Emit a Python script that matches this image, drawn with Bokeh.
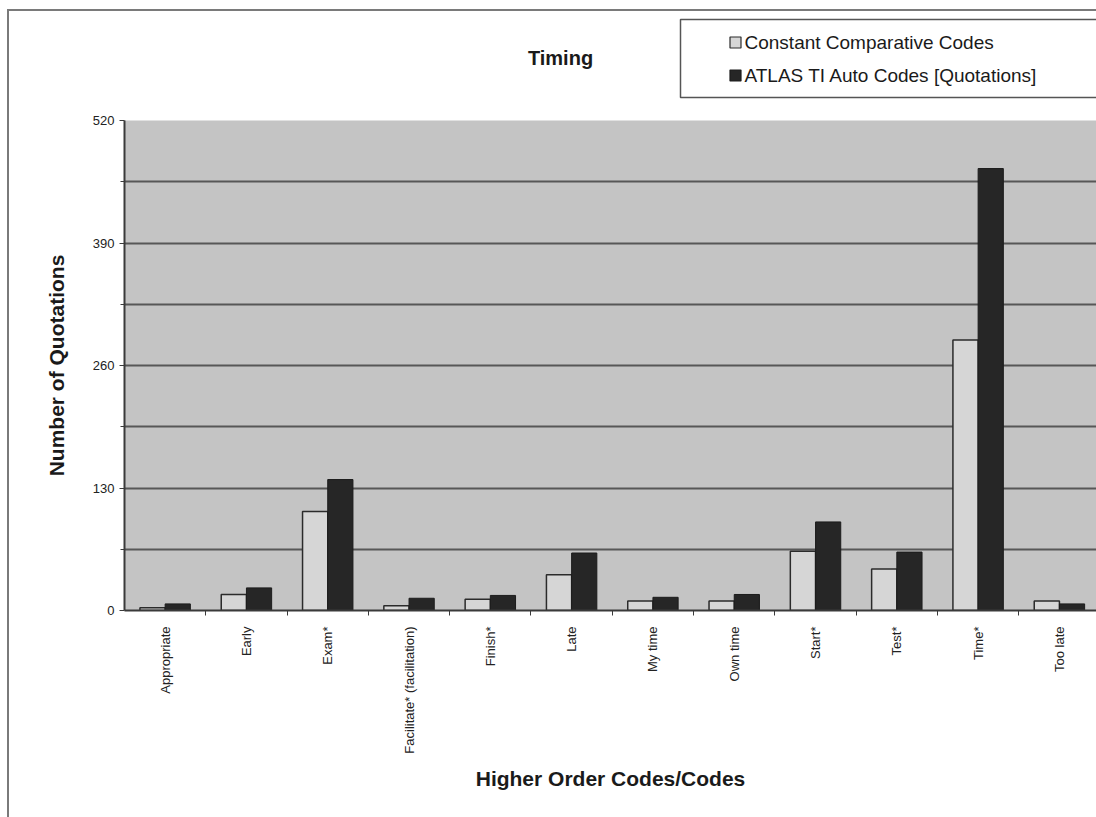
import numpy as np
from bokeh.plotting import figure
from bokeh.layouts import column
from bokeh.models import Range1d, FixedTicker, ColumnDataSource
from bokeh.core.properties import value
from bokeh.embed import file_html
from bokeh.resources import INLINE

# Quotation counts per code
categories = ["Appropriate", "Early", "Exam*", "Facilitate* (facilitation)", "Finish*",
              "Late", "My time", "Own time", "Start*", "Test*", "Time*", "Too late"]
constant_comparative = [3, 17, 105, 5, 12, 38, 10, 10, 63, 44, 287, 10]
atlas_auto = [7, 24, 139, 13, 16, 61, 14, 17, 94, 62, 469, 7]
series_names = ["Constant Comparative Codes", "ATLAS TI Auto Codes [Quotations]"]
chart_title = "Timing"

y_tick_values = [0, 130, 260, 390, 520]
y_minor_values = [65, 195, 325, 455]

FONT = "Liberation Sans"
BAR_W = 0.31
CCC_FILL, CCC_LINE = "#d6d6d6", "#2b2b2b"
ATL_FILL, ATL_LINE = "#262626", "#1c1c1c"
FRAME_GREY = "#7a7a7a"
W = 1096
HEADER_H = 100
PLOT_LEFT = 124

# outer chart border, drawn as CSS lines behind the transparent canvases
edge = f"linear-gradient({FRAME_GREY}, {FRAME_GREY})"
header_css = {"background": f"{edge} 7px 9px / 2px 100% no-repeat, "
                            f"{edge} 7px 9px / 100% 2px no-repeat, white"}
body_css = {"background": f"{edge} 7px 0px / 2px 100% no-repeat, white"}

# ---------------- header strip: title and legend ----------------
# the frame of this strip lines up with the chart frame below (x from PLOT_LEFT to W)
head = figure(width=W, height=HEADER_H, x_range=Range1d(PLOT_LEFT, W),
              y_range=Range1d(HEADER_H, 0),
              x_axis_type=None, y_axis_type=None, output_backend="svg",
              toolbar_location=None, min_border=0)
head.outline_line_color = None
head.grid.visible = False
head.background_fill_alpha = 0
head.border_fill_alpha = 0
head.styles = header_css

head.text(x=[560], y=[57], text=[chart_title], text_align="center", text_baseline="middle",
          text_font=value(FONT), text_font_style="bold", text_font_size="20px",
          text_color="#1a1a1a")

# legend frame (open to the right edge)
head.quad(left=[680], right=[W + 10], top=[19], bottom=[97],
          fill_color="white", line_color="#555555", line_width=1.5)

legend_y = [42, 75]
head.rect(x=[735, 735], y=legend_y, width=11, height=11,
          fill_color=[CCC_FILL, ATL_FILL], line_color=[CCC_LINE, ATL_LINE], line_width=1.2)
head.text(x=[744, 744], y=legend_y, text=series_names, text_baseline="middle",
          text_font=value(FONT), text_font_size="19px", text_color="#1a1a1a")

# ---------------- main bar chart ----------------
n = len(categories)
centers = np.arange(n) + 0.5
source = ColumnDataSource(dict(
    x_ccc=centers - BAR_W / 2,
    x_atl=centers + BAR_W / 2,
    ccc=constant_comparative,
    atl=atlas_auto,
))

p = figure(width=W, height=817 - HEADER_H,
           x_range=Range1d(0, 11.956), y_range=Range1d(0, 520),
           output_backend="svg", toolbar_location=None,
           min_border_left=PLOT_LEFT, min_border_top=20,
           min_border_bottom=207, min_border_right=0)

p.background_fill_color = "#c4c4c4"
p.border_fill_alpha = 0
p.outline_line_color = None
p.styles = body_css

p.vbar(x="x_ccc", top="ccc", width=BAR_W, source=source,
       fill_color=CCC_FILL, line_color=CCC_LINE, line_width=1.5)
p.vbar(x="x_atl", top="atl", width=BAR_W, source=source,
       fill_color=ATL_FILL, line_color=ATL_LINE, line_width=1)

# horizontal grid every 65
p.xgrid.visible = False
p.ygrid.ticker = FixedTicker(ticks=sorted(y_tick_values + y_minor_values))
p.ygrid.grid_line_color = "#575757"
p.ygrid.grid_line_width = 2
p.ygrid.level = "underlay"

# y axis
p.yaxis.ticker = FixedTicker(ticks=y_tick_values, minor_ticks=y_minor_values)
p.yaxis.axis_label = "Number of Quotations"
p.yaxis.axis_label_text_font = FONT
p.yaxis.axis_label_text_font_style = "bold"
p.yaxis.axis_label_text_font_size = "21px"
p.yaxis.axis_label_text_color = "#1a1a1a"
p.yaxis.axis_label_standoff = 22
p.yaxis.major_label_text_font = FONT
p.yaxis.major_label_text_font_size = "13px"
p.yaxis.major_label_text_color = "#222222"
p.yaxis.axis_line_color = "#3a3a3a"
p.yaxis.axis_line_width = 2
p.yaxis.major_tick_line_color = "#3a3a3a"
p.yaxis.major_tick_in = 0
p.yaxis.major_tick_out = 5
p.yaxis.minor_tick_line_color = "#3a3a3a"
p.yaxis.minor_tick_in = 0
p.yaxis.minor_tick_out = 4

# x axis: labels at category centres, ticks at category boundaries
p.xaxis.ticker = FixedTicker(ticks=list(centers), minor_ticks=list(range(1, n)))
p.xaxis.major_label_overrides = {float(c): lab for c, lab in zip(centers, categories)}
p.xaxis.major_label_orientation = np.pi / 2
p.xaxis.major_label_text_font = FONT
p.xaxis.major_label_text_font_size = "13px"
p.xaxis.major_label_text_color = "#222222"
p.xaxis.major_label_standoff = 11
p.xaxis.major_tick_line_color = None
p.xaxis.major_tick_in = 0
p.xaxis.major_tick_out = 0
p.xaxis.minor_tick_line_color = "#3a3a3a"
p.xaxis.minor_tick_in = 0
p.xaxis.minor_tick_out = 5
p.xaxis.axis_line_color = "#3a3a3a"
p.xaxis.axis_line_width = 2
p.xaxis.axis_label = "Higher Order Codes/Codes"
p.xaxis.axis_label_text_font = FONT
p.xaxis.axis_label_text_font_style = "bold"
p.xaxis.axis_label_text_font_size = "21px"
p.xaxis.axis_label_text_color = "#1a1a1a"
p.xaxis.axis_label_standoff = 10

layout = column(head, p, spacing=0)
open("out.html", "w").write(file_html(layout, INLINE))
